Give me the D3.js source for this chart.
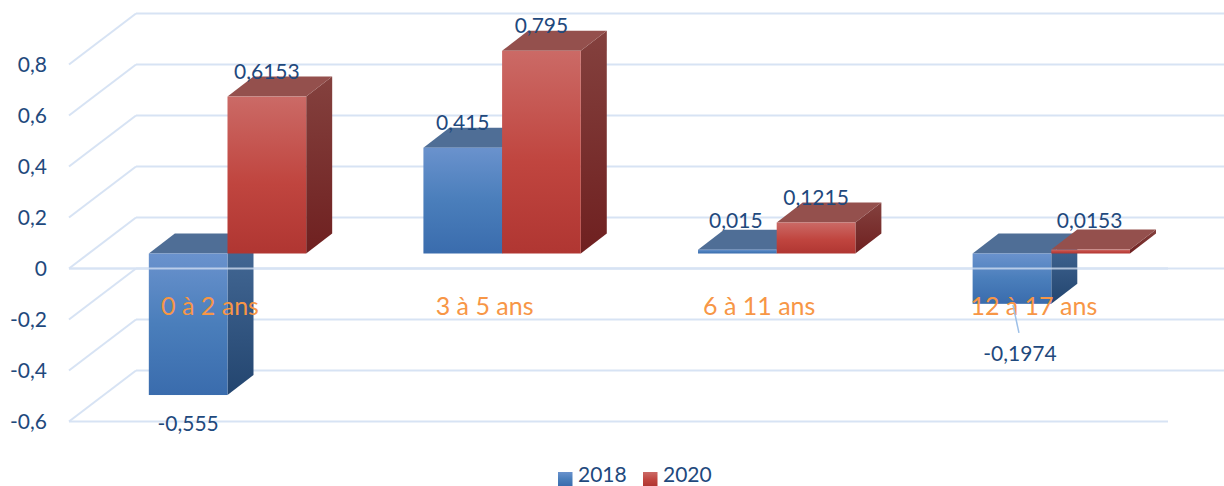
<!DOCTYPE html>
<html><head><meta charset="utf-8">
<script src="https://cdn.jsdelivr.net/npm/d3@7"></script>
<style>html,body{margin:0;padding:0;background:#fff}svg{display:block}text{font-family:Lato,"Open Sans",sans-serif}</style>
</head><body><svg id="c" width="1224" height="486"></svg>
<script>
const categories = ["0 à 2 ans", "3 à 5 ans", "6 à 11 ans", "12 à 17 ans"];
const seriesNames = ["2018", "2020"];
const values2018 = [-0.555, 0.415, 0.015, -0.1974];
const values2020 = [0.6153, 0.795, 0.1215, 0.0153];
const yTicks = [-0.6, -0.4, -0.2, 0, 0.2, 0.4, 0.6, 0.8];

const W = 1224, H = 486;
const svg = d3.select("#c");
const TEXT = "#1f497d", GRID = "#d7e3f4", ORANGE = "#f79646";
const FS = 21;
const comma = v => String(v).replace(".", ",");

// scales: front wall of the chart box, and the shift to the bars' plane
const yGrid = d3.scaleLinear().domain([0, 0.8]).range([268.5, 64.5]);
const barShift = -15;                 // bars sit a little deeper than the front edge
const y = v => yGrid(v) + barShift;
const x0 = d3.scaleBand().domain(categories).range([90.2, 1188.6]);
const x1 = d3.scaleBand().domain(seriesNames).range([0, x0.bandwidth()]).paddingOuter(0.745);

const depthX = 67, depthY = -51, leftX = 69, rightX = 1168;
const barDx = 26, barDy = -20;

// gradients
const defs = svg.append("defs");
function grad(id, stops) {
  const g = defs.append("linearGradient").attr("id", id)
    .attr("x1", 0).attr("y1", 0).attr("x2", 0).attr("y2", 1);
  stops.forEach(([o, c]) => g.append("stop").attr("offset", o).attr("stop-color", c));
}
grad("f2018", [[0, "#6a92cd"], [0.5, "#4a7ebb"], [1, "#3a6cad"]]);
grad("f2020", [[0, "#cb6a66"], [0.55, "#c0453f"], [1, "#b03632"]]);
grad("s2018", [[0, "#466b98"], [1, "#23456f"]]);
grad("s2020", [[0, "#84413e"], [1, "#6f2020"]]);
const topColor = { "2018": "#4f6e96", "2020": "#94504d" };

// grid
const grid = svg.append("g").attr("fill", "none").attr("stroke", GRID).attr("stroke-width", 2);
yTicks.forEach(t => {
  const yy = yGrid(t);
  grid.append("line").attr("x1", leftX).attr("y1", yy).attr("x2", leftX + depthX).attr("y2", yy + depthY);
  grid.append("line").attr("x1", leftX + depthX).attr("y1", yy + depthY).attr("x2", W).attr("y2", yy + depthY);
});
grid.append("line").attr("x1", leftX).attr("y1", yGrid(-0.6)).attr("x2", rightX).attr("y2", yGrid(-0.6));
grid.append("line").attr("x1", leftX).attr("y1", yGrid(0)).attr("x2", rightX).attr("y2", yGrid(0));

// y axis
const yAxis = svg.append("g").attr("transform", "translate(47,0)")
  .call(d3.axisLeft(yGrid).tickValues(yTicks).tickSize(0).tickPadding(0).tickFormat(comma));
yAxis.select(".domain").remove();
yAxis.selectAll("text").attr("fill", TEXT).attr("font-size", FS).attr("dy", "0.33em");

// bars
const bars = svg.append("g");
categories.forEach((c, i) => {
  seriesNames.forEach((s, si) => {
    const v = (si === 0 ? values2018 : values2020)[i];
    const xl = x0(c) + x1(s), xr = xl + x1.bandwidth();
    const top = y(Math.max(0, v)), bot = y(Math.min(0, v));
    const g = bars.append("g");
    g.append("path").attr("fill", `url(#s${s})`)
      .attr("d", d3.line()([[xr, top], [xr + barDx, top + barDy], [xr + barDx, bot + barDy], [xr, bot]]) + "Z");
    g.append("path").attr("fill", topColor[s])
      .attr("d", d3.line()([[xl, top], [xl + barDx, top + barDy], [xr + barDx, top + barDy], [xr, top]]) + "Z");
    g.append("rect").attr("x", xl).attr("y", top).attr("width", xr - xl).attr("height", Math.max(bot - top, 1))
      .attr("fill", `url(#f${s})`);
  });
});

// floor line passing in front of the bars
svg.append("line").attr("x1", leftX).attr("y1", yGrid(0)).attr("x2", rightX).attr("y2", yGrid(0))
  .attr("stroke", GRID).attr("stroke-width", 2).attr("stroke-opacity", 0.75);

// category axis
const xAxis = svg.append("g").attr("transform", "translate(-17.5,306)")
  .call(d3.axisBottom(x0).tickSize(0).tickPadding(0));
xAxis.select(".domain").remove();
xAxis.selectAll("text").attr("fill", ORANGE).attr("font-size", 25).attr("y", 0).attr("dy", "0.36em");

// leader line
const lead = { dx1: 1, dy1: 1, dx2: 7, dy2: 29 };
const leadX = x0(categories[3]) + x1("2018") + x1.bandwidth() / 2;
svg.append("line").attr("x1", leadX + lead.dx1).attr("y1", y(values2018[3]) + lead.dy1)
  .attr("x2", leadX + lead.dx2).attr("y2", y(values2018[3]) + lead.dy2)
  .attr("stroke", "#9dc0e8").attr("stroke-width", 1.5);

// value labels
const nudges = { "0-2018": [0, 28], "1-2020": [0, -25], "2-2018": [-1.5, -29], "3-2020": [-1, -29], "3-2018": [8, 50] };
categories.forEach((c, i) => {
  seriesNames.forEach((s, si) => {
    const v = (si === 0 ? values2018 : values2020)[i];
    const cx = x0(c) + x1(s) + x1.bandwidth() / 2;
    const [nx, ny] = nudges[i + "-" + s] || [0, -25];
    svg.append("text").attr("x", cx + nx).attr("y", y(v) + ny).attr("dy", "0.36em")
      .attr("text-anchor", "middle").attr("fill", TEXT).attr("font-size", FS).text(comma(v));
  });
});

// legend
const legendX = d3.scaleOrdinal().domain(seriesNames).range([558, 643]);
seriesNames.forEach(s => {
  const lx = legendX(s);
  svg.append("rect").attr("x", lx).attr("y", 472).attr("width", 14.5).attr("height", 14).attr("fill", `url(#f${s})`);
  svg.append("text").attr("x", lx + 20).attr("y", 481.5)
    .attr("fill", TEXT).attr("font-size", FS).text(s);
});
</script></body></html>
